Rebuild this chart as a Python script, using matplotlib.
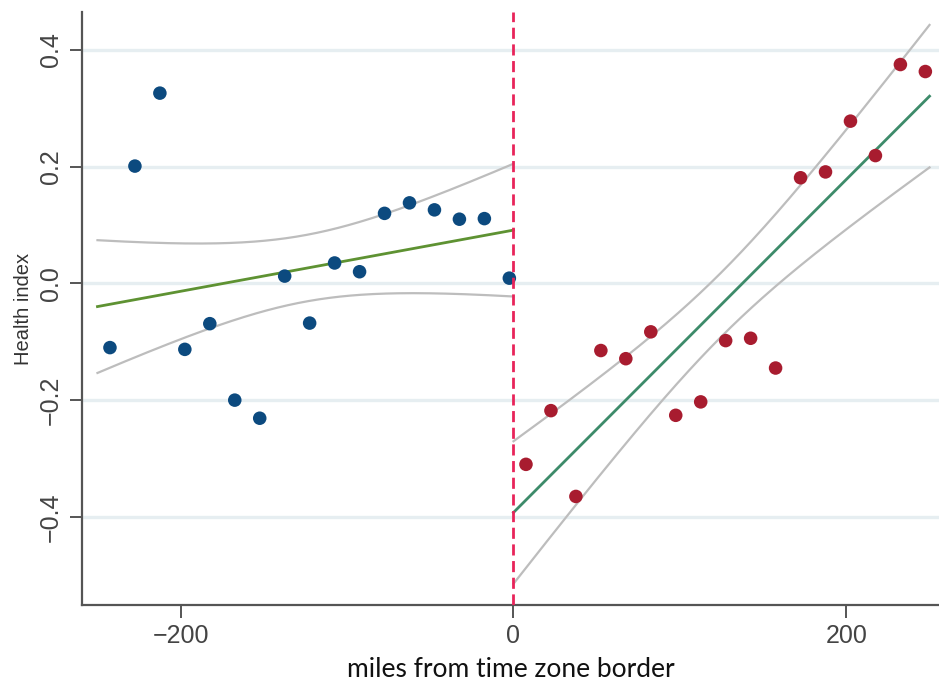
import numpy as np
import matplotlib
matplotlib.use("Agg")
import matplotlib.pyplot as plt

# ---- data ----
west_x = [-242.5, -227.5, -212.5, -197.5, -182.5, -167.5, -152.5, -137.5, -122.5,
          -107.5, -92.5, -77.5, -62.5, -47.5, -32.5, -17.5, -2.5]
west_y = [-0.110, 0.201, 0.326, -0.113, -0.069, -0.200, -0.231, 0.0125, -0.068,
          0.035, 0.020, 0.120, 0.138, 0.126, 0.110, 0.111, 0.009]

east_x = [7.5, 22.5, 37.5, 52.5, 67.5, 82.5, 97.5, 112.5, 127.5,
          142.5, 157.5, 172.5, 187.5, 202.5, 217.5, 232.5, 247.5]
east_y = [-0.310, -0.218, -0.365, -0.115, -0.129, -0.083, -0.226, -0.203, -0.098,
          -0.094, -0.145, 0.181, 0.191, 0.278, 0.219, 0.375, 0.363]

# fitted lines: (x range, value at border, slope) and CI band (centre, min half width, curvature)
west_range = [-250.0, 0.0]
west_fit = [0.0913, 0.000524]
west_band = [-125.0, 0.057, 6.2e-7]

east_range = [0.0, 250.0]
east_fit = [-0.3925, 0.002853]
east_band = [125.0, 0.055, 7.6e-7]

xticks = [-200, 0, 200]
yticks = [-0.4, -0.2, 0.0, 0.2, 0.4]
ytick_labels = ["\u22120.4", "\u22120.2", "0.0", "0.2", "0.4"]
xtick_labels = ["\u2212200", "0", "200"]

# ---- figure ----
fig = plt.figure(figsize=(9.39, 6.88), dpi=100)
ax = fig.add_axes([82 / 939, 1 - 605 / 688, 1 - 82 / 939, (605 - 12) / 688])
ax.set_xlim(-259.3, 255.7)
ax.set_ylim(-0.551, 0.465)

for yt in yticks:
    ax.axhline(yt, color="#e6eef1", lw=2.4, zorder=0)


def draw_fit(rng, fit, band, color):
    xs = np.linspace(rng[0], rng[1], 200)
    yc = fit[0] + fit[1] * xs
    hw = np.sqrt(band[1] ** 2 + band[2] * (xs - band[0]) ** 2)
    ax.plot(xs, yc + hw, color="#bdbdbd", lw=1.6, zorder=2)
    ax.plot(xs, yc - hw, color="#bdbdbd", lw=1.6, zorder=2)
    ax.plot(xs, yc, color=color, lw=2.0, zorder=3)


draw_fit(west_range, west_fit, west_band, "#5e9232")
draw_fit(east_range, east_fit, east_band, "#3d8b6a")

ax.scatter(west_x, west_y, s=95, color="#0c4a7f", edgecolors="none", zorder=4)
ax.scatter(east_x, east_y, s=95, color="#a81c2f", edgecolors="none", zorder=4)

ax.axvline(0, color="#e8245a", lw=2.0, ls=(0, (4, 2)), zorder=5)

for s in ["top", "right"]:
    ax.spines[s].set_visible(False)
for s in ["left", "bottom"]:
    ax.spines[s].set_color("#555555")
    ax.spines[s].set_linewidth(1.6)

ax.set_xticks(xticks)
ax.set_xticklabels(xtick_labels)
ax.set_yticks(yticks)
ax.set_yticklabels(ytick_labels, rotation=90, va="center")
ax.tick_params(axis="both", colors="#555555", labelcolor="#444444", length=9,
               width=1.4, labelsize=18, pad=5)
for lab in ax.get_xticklabels() + ax.get_yticklabels():
    lab.set_family(["Liberation Sans", "DejaVu Sans"])

ax.set_ylabel("Health index", fontsize=14.5, color="#333333",
              family=["Liberation Sans", "DejaVu Sans"], labelpad=4)
ax.set_xlabel("miles from time zone border", fontsize=19, color="#111111",
              family=["Lato", "DejaVu Sans"], labelpad=6)

fig.savefig("out.png", dpi=100, facecolor="white")
